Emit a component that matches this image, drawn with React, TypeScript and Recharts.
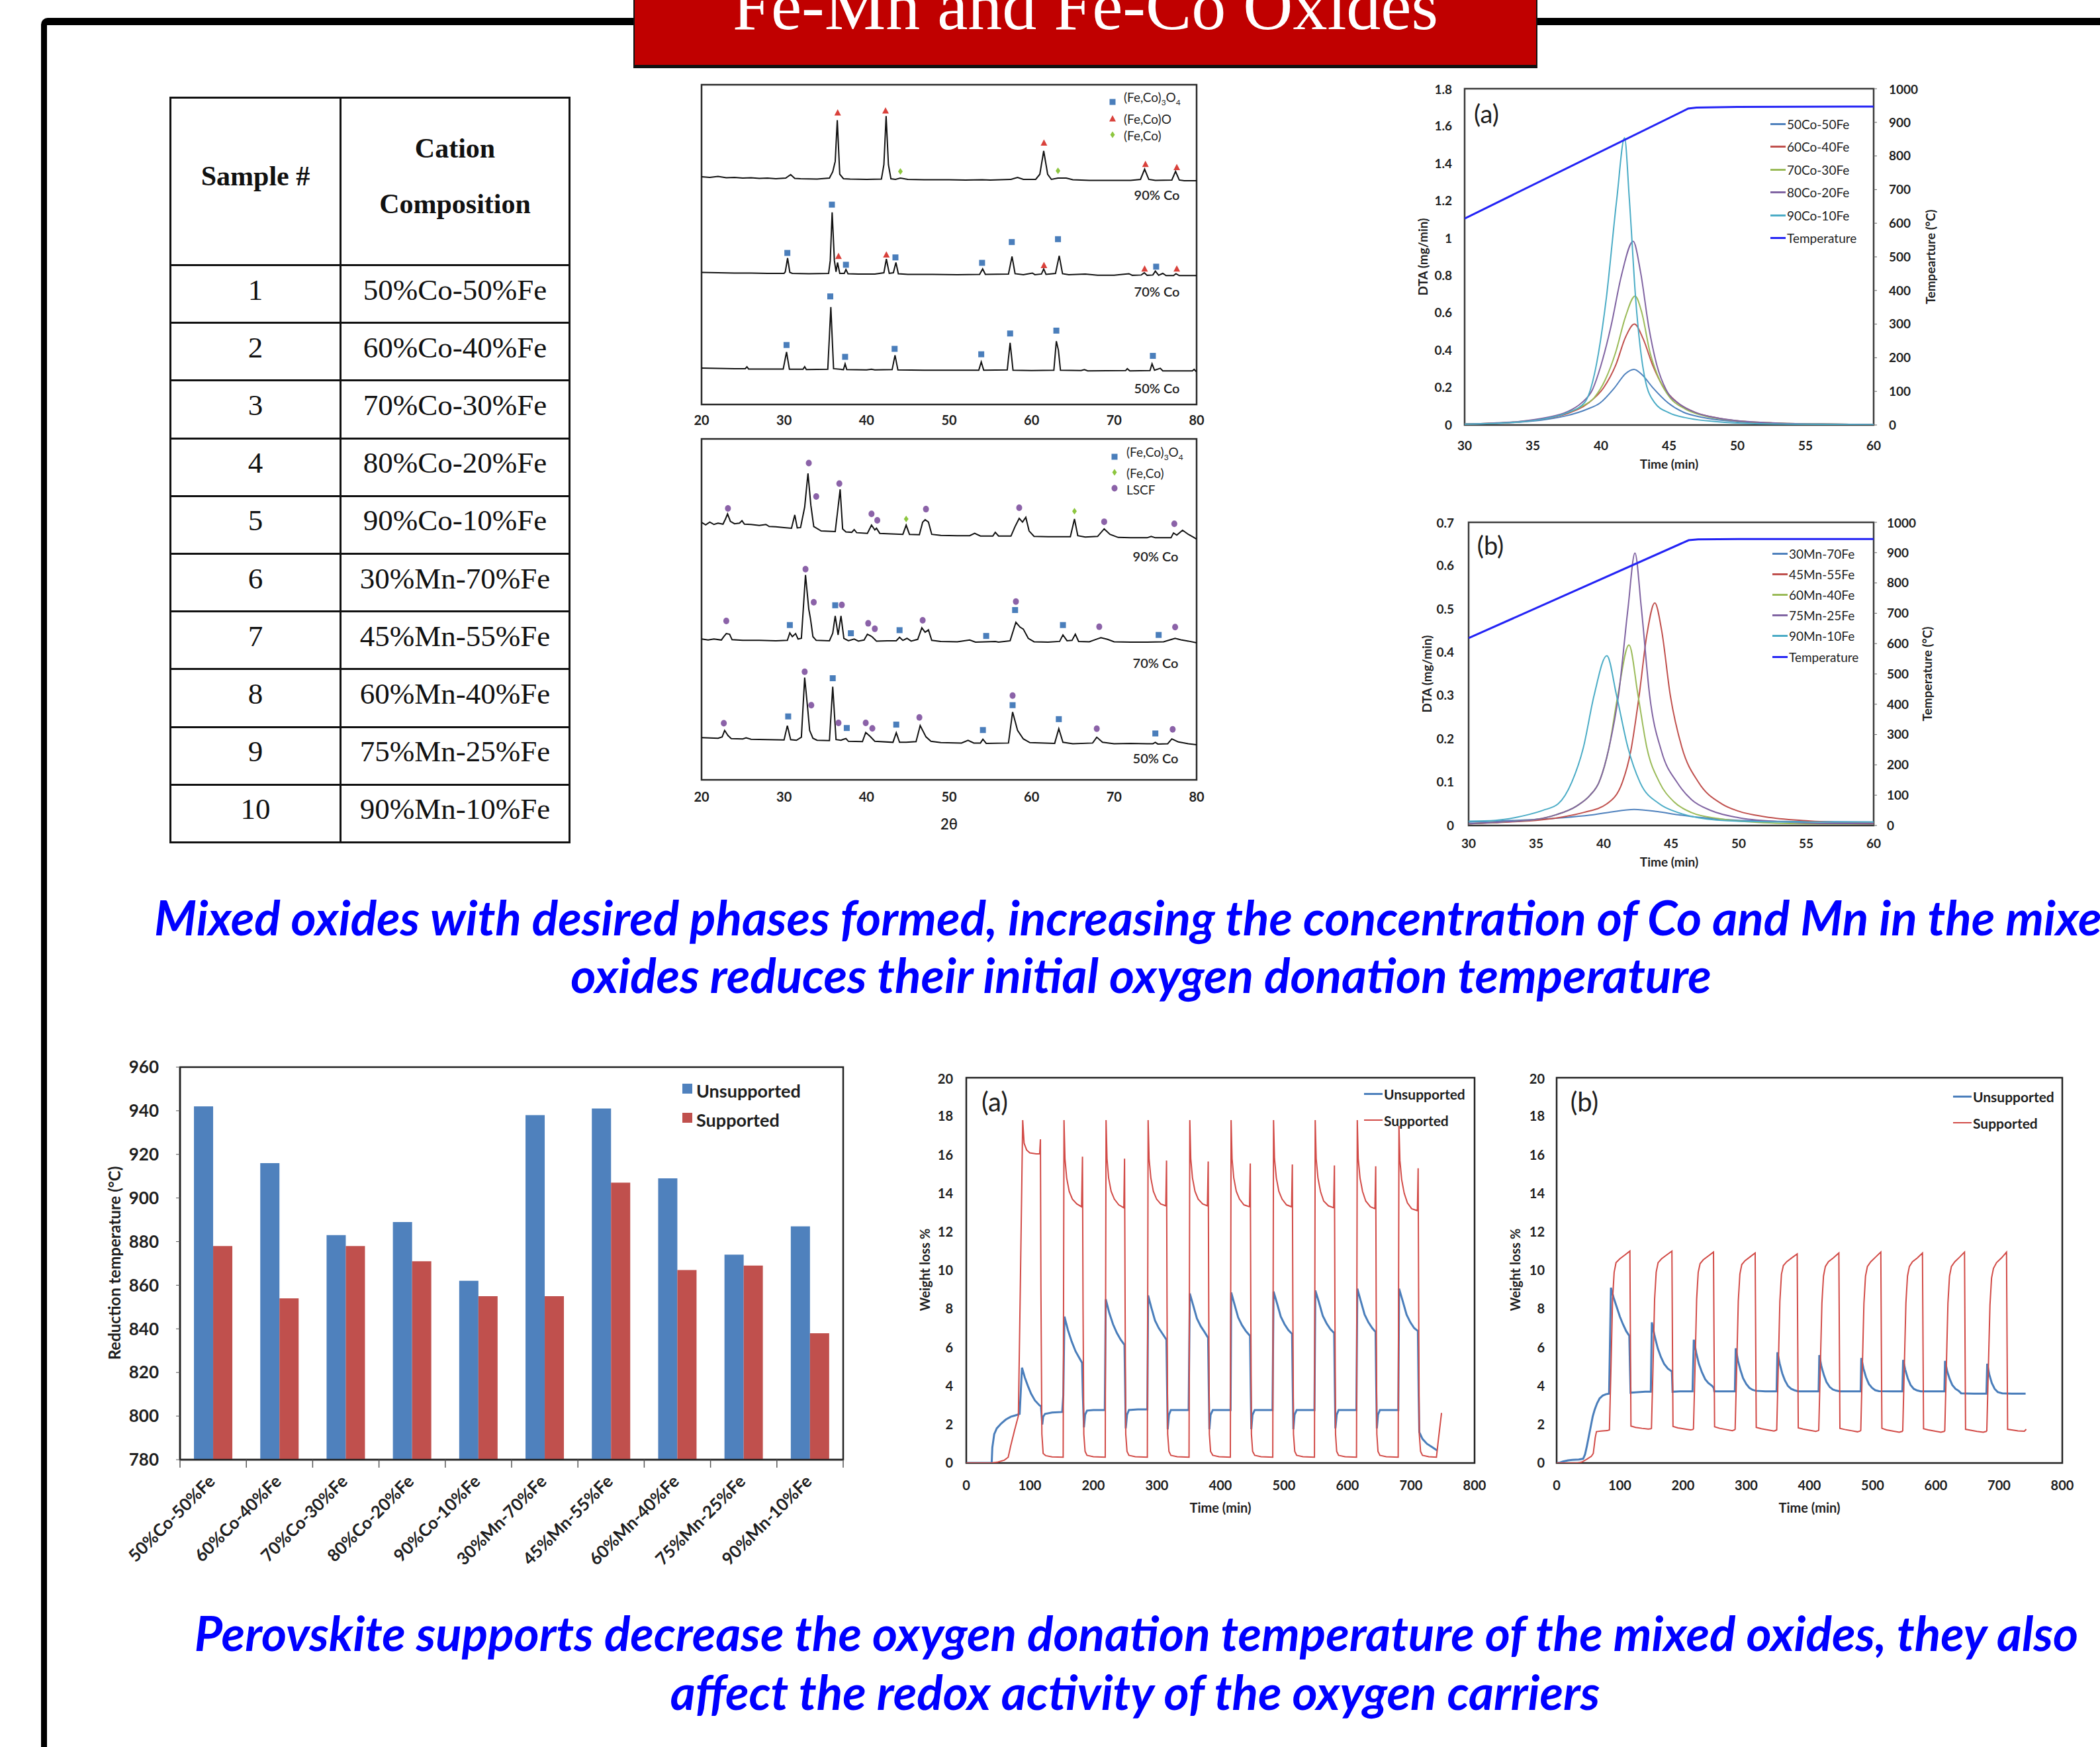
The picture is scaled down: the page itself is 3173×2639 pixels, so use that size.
import React from "react";
import {
  ComposedChart,
  BarChart,
  Bar,
  Line,
  Scatter,
  XAxis,
  YAxis,
  ReferenceArea,
} from "recharts";

// ---------- sample table / bar chart categories ----------
const sampleNumbers = [1, 2, 3, 4, 5, 6, 7, 8, 9, 10];
const compositions = [
  "50%Co-50%Fe",
  "60%Co-40%Fe",
  "70%Co-30%Fe",
  "80%Co-20%Fe",
  "90%Co-10%Fe",
  "30%Mn-70%Fe",
  "45%Mn-55%Fe",
  "60%Mn-40%Fe",
  "75%Mn-25%Fe",
  "90%Mn-10%Fe",
];

// reduction temperature (°C)
const unsupportedTemp = [942, 916, 883, 889, 862, 938, 941, 909, 874, 887];
const supportedTemp = [878, 854, 878, 871, 855, 855, 907, 867, 869, 838];
const reductionTicks = [780, 800, 820, 840, 860, 880, 900, 920, 940, 960];

// ---------- XRD (2θ, stacked intensity in arbitrary units) ----------
const xrdTicks = [20, 30, 40, 50, 60, 70, 80];

// unsupported samples
const xrdTop90 = [
  [20, 71.2], [21, 71.0], [22, 71.3], [23, 70.9], [24, 71.0], [25, 70.8], [26, 70.9], [27, 70.7], [28, 70.8], [29, 70.6],
  [30.2, 70.8], [30.8, 71.9], [31.3, 70.7], [32, 70.6], [34, 70.5], [35.5, 70.8], [35.9, 72.8], [36.2, 76], [36.45, 88.9],
  [36.75, 72], [37.2, 70.6], [38, 70.5], [40, 70.4], [41.8, 70.5], [42.1, 75], [42.37, 90.2], [42.65, 75], [42.95, 70.6],
  [43.5, 70.4], [44.1, 70.8], [45, 70.4], [47, 70.3], [50, 70.3], [52, 70.2], [54, 70.3], [55, 70.2], [57.5, 70.4],
  [58.3, 71.0], [59, 70.4], [60.5, 70.4], [61.0, 72], [61.47, 79.3], [61.95, 72], [62.4, 70.4], [63.2, 70.8], [64.2, 70.8],
  [65, 70.3], [67, 70.1], [70, 70.1], [72, 70.1], [73.2, 70.4], [73.7, 73.6], [74.2, 70.4], [75, 70.1], [77, 70.2],
  [77.45, 72.9], [77.9, 70.2], [78.5, 70.0], [80, 70.0],
];
const xrdTop70 = [
  [20, 41.3], [22, 41.2], [24, 41.1], [26, 41.1], [28, 41.0], [30, 41.0], [30.15, 41.5], [30.43, 45.8], [30.7, 41.3],
  [31, 41.0], [33, 40.9], [35.4, 41.0], [35.6, 45], [35.83, 60.1], [36.1, 45], [36.3, 41.5], [36.48, 44.4], [36.75, 41.0],
  [37.3, 41.0], [37.5, 42.2], [37.75, 40.9], [39, 40.8], [41, 40.8], [42.1, 41.2], [42.4, 45.5], [42.75, 41.0],
  [43.25, 41.2], [43.56, 44.4], [43.85, 40.9], [45, 40.7], [48, 40.7], [51, 40.6], [53.7, 40.7], [54.07, 42.4],
  [54.4, 40.7], [57.2, 40.8], [57.63, 46.3], [58.0, 40.9], [59, 40.6], [60.1, 41.1], [60.4, 40.6], [61.2, 40.8],
  [61.47, 42.4], [61.75, 40.7], [62.9, 41.0], [63.35, 46.5], [63.75, 40.9], [64.5, 40.6], [66.5, 40.8], [68, 40.4],
  [70, 40.4], [71.8, 40.9], [72.2, 40.4], [73.3, 40.5], [73.66, 41.2], [74.0, 40.4], [74.7, 40.5], [75.0, 41.7],
  [75.4, 40.4], [75.9, 41.0], [76.3, 40.3], [77.2, 40.3], [77.5, 40.9], [77.9, 40.3], [80, 40.3],
];
const xrdTop50 = [
  [20, 11.4], [22, 11.3], [24, 11.2], [25.3, 11.2], [25.5, 11.8], [25.7, 11.1], [28, 11.1], [29.9, 11.1], [30.3, 16.4],
  [30.65, 11.0], [32.3, 11.0], [32.5, 11.8], [32.7, 10.9], [35.3, 11.0], [35.67, 30.5], [36.0, 11.2], [37.2, 10.9],
  [37.4, 12.7], [37.6, 10.9], [40, 10.8], [40.6, 11.0], [41, 10.8], [43.1, 10.9], [43.45, 15.4], [43.8, 10.8], [47, 10.7],
  [50, 10.7], [53.6, 10.7], [53.9, 13.3], [54.2, 10.7], [57.05, 10.8], [57.4, 19.3], [57.75, 10.7], [60, 10.6],
  [62.7, 10.7], [63.0, 19.8], [63.25, 17], [63.5, 10.7], [66, 10.6], [66.4, 10.9], [66.8, 10.5], [71.4, 10.6],
  [71.6, 11.2], [71.9, 10.5], [74.35, 10.6], [74.6, 12.7], [74.9, 10.7], [75.6, 11.3], [75.9, 10.5], [79.5, 10.5],
  [79.7, 11.0], [79.9, 10.4], [80, 10.4],
];
const xrdTopSpinel = [
  [30.4, 47.4], [35.8, 62.5], [37.5, 43.7], [43.5, 46.0], [54.0, 44.3], [57.6, 50.8], [63.2, 51.7], [75.1, 43.1],
  [30.3, 18.6], [35.6, 33.8], [37.4, 14.9], [43.4, 17.4], [53.9, 15.7], [57.4, 22.2], [63.0, 23.1], [74.7, 15.2],
];
const xrdTopRocksalt = [
  [36.5, 91.2], [42.3, 91.8], [61.5, 81.8], [73.8, 75.1], [77.6, 74.1],
  [36.6, 46.3], [42.4, 46.8], [61.5, 43.5], [73.7, 42.4], [77.6, 42.4],
];
const xrdTopAlloy = [[44.1, 72.9], [63.2, 73.1]];

// LSCF supported samples
const xrdBot90 = [
  [20, 75.5], [20.5, 74.8], [21, 75.6], [21.5, 74.9], [22, 75.3], [22.6, 75.0], [22.9, 76.5], [23.15, 78.0], [23.5, 75.8],
  [24, 75.1], [24.6, 75.3], [24.9, 76.0], [25.2, 75.0], [26, 74.9], [27, 74.6], [27.8, 74.9], [28.2, 74.3], [29, 74.2],
  [30, 74.0], [30.9, 73.8], [31.3, 77.7], [31.6, 73.9], [32.0, 74.0], [32.5, 80], [32.9, 89.9], [33.25, 80.5],
  [33.6, 74.3], [34.5, 73.0], [36.2, 72.8], [36.55, 80], [36.8, 85.2], [37.1, 73.6], [37.5, 72.7], [38.2, 72.6],
  [38.5, 73.4], [38.8, 72.5], [40.1, 72.3], [40.6, 74.7], [41.0, 73.3], [41.2, 73.8], [41.6, 72.3], [42.5, 72.2],
  [44.4, 72.0], [44.8, 74.7], [45.2, 72.0], [46.4, 71.9], [46.8, 75.6], [47.1, 76.3], [47.5, 75.6], [47.9, 72.0],
  [49, 71.7], [51, 71.6], [52.5, 71.6], [53.1, 72.3], [53.8, 71.5], [55.3, 71.5], [55.6, 72.6], [56, 71.5], [57.5, 71.5],
  [58.0, 74.3], [58.5, 76.7], [58.9, 75.6], [59.3, 77.0], [59.7, 73], [60.3, 71.4], [62, 71.3], [64.7, 71.3],
  [65.2, 76.5], [65.6, 71.6], [66.5, 71.2], [68.0, 71.4], [68.8, 73.6], [69.5, 72.0], [70.5, 71.1], [72, 71.0],
  [74, 71.0], [74.5, 71.4], [75, 71.0], [76.9, 71.0], [77.2, 72.4], [77.6, 71.8], [78.3, 73.2], [79, 72.0],
  [79.6, 71.2], [80, 70.6],
];
const xrdBot70 = [
  [20, 41.3], [20.8, 41.0], [21.5, 41.3], [22.4, 41.0], [22.7, 42.0], [23.0, 42.9], [23.4, 42.7], [23.7, 41.1],
  [25, 40.9], [27, 40.9], [29, 40.8], [30.4, 40.9], [30.7, 43.1], [31.0, 42.0], [31.4, 42.9], [31.7, 41.3],
  [32.1, 41.5], [32.6, 60.1], [33.0, 50], [33.2, 47.3], [33.5, 42], [33.9, 40.9], [35.5, 40.8], [35.9, 43],
  [36.2, 48.1], [36.55, 42.5], [36.9, 48.1], [37.25, 41.5], [37.8, 40.8], [38.5, 41.3], [39.0, 40.7], [39.7, 41.0],
  [40.1, 42.7], [40.5, 42.2], [40.7, 41.9], [41.2, 40.7], [42.5, 40.8], [43.6, 40.8], [44.0, 41.8], [44.4, 40.9],
  [44.9, 41.5], [45.4, 40.7], [46.2, 41.2], [46.7, 44.6], [47.1, 43.3], [47.5, 44.0], [47.9, 40.9], [49, 40.6],
  [51, 40.5], [52.5, 41.0], [53.2, 40.4], [54.5, 40.5], [55.6, 40.6], [56, 40.4], [57.4, 40.8], [58.1, 46.2],
  [58.6, 44.8], [59.0, 44.2], [59.6, 41.5], [60.3, 40.5], [62, 40.4], [63.4, 40.6], [63.8, 42.5], [64.3, 40.8],
  [64.9, 40.9], [65.3, 42.7], [65.7, 40.6], [67, 40.5], [67.8, 41.2], [68.4, 41.7], [69.2, 41.2], [70, 40.5],
  [72, 40.4], [74, 40.4], [76, 40.5], [77.0, 41.2], [77.4, 41.5], [78.2, 41.0], [79, 40.7], [80, 40.2],
];
const xrdBot50 = [
  [20, 12.4], [21, 12.3], [22, 12.2], [22.5, 12.6], [22.8, 14.5], [23.2, 13.0], [23.6, 12.1], [25, 12.0], [25.4, 12.3],
  [26, 11.9], [28, 11.8], [30, 11.7], [30.4, 15.9], [30.8, 11.8], [31.5, 11.6], [32.1, 12.5], [32.5, 30.0], [32.9, 20],
  [33.1, 14.5], [33.5, 12.2], [34, 11.6], [35.5, 11.5], [35.9, 27.3], [36.3, 11.8], [36.9, 11.6], [37.2, 11.9],
  [37.5, 12.1], [37.8, 11.3], [39.5, 11.2], [39.9, 13.9], [40.4, 12.8], [41.0, 11.3], [43.2, 11.0], [43.6, 13.8],
  [44.0, 11.0], [44.8, 11.0], [46.0, 11.2], [46.5, 15.9], [47.2, 12.6], [47.8, 11.3], [49, 10.9], [51.5, 10.8],
  [52.3, 11.6], [53, 10.8], [53.8, 10.8], [54.1, 11.9], [54.5, 10.7], [57.2, 10.8], [57.7, 19.9], [58.3, 14.5],
  [59.0, 12.0], [59.8, 10.9], [62.8, 10.7], [63.3, 15.0], [63.8, 11.0], [65, 10.6], [67.4, 10.8], [67.9, 12.5],
  [68.6, 11.0], [70, 10.6], [72, 10.7], [74, 10.6], [74.7, 10.6], [75.0, 11.0], [75.3, 10.5], [76.5, 10.6],
  [77.0, 12.0], [77.8, 11.1], [79, 10.6], [80, 10.3],
];
const xrdBotSpinel = [
  [30.7, 45.4], [36.2, 51.2], [38.1, 43.0], [44.0, 43.9], [54.5, 42.2], [58.0, 49.8], [63.8, 45.4], [75.4, 42.5],
  [30.5, 18.6], [35.9, 29.8], [37.6, 15.2], [43.6, 16.2], [54.1, 14.6], [57.7, 21.9], [63.3, 17.8], [75.0, 13.6],
];
const xrdBotAlloy = [[44.8, 76.5], [65.2, 78.8]];
const xrdBotLscf = [
  [23.2, 79.6], [33.0, 92.9], [33.9, 83.1], [36.7, 86.9], [40.6, 78.0], [41.3, 76.1], [47.2, 79.4], [58.5, 79.8],
  [68.8, 75.7], [77.3, 75.1],
  [23.0, 46.6], [32.6, 61.8], [33.6, 52.1], [37.0, 51.3], [40.2, 45.9], [41.0, 44.3], [46.8, 46.8], [58.1, 52.3],
  [68.2, 44.9], [77.4, 44.8],
  [22.7, 16.6], [32.5, 31.7], [33.3, 21.9], [36.6, 16.7], [39.9, 16.7], [40.7, 15.1], [46.4, 18.3], [57.7, 24.7],
  [67.9, 15.0], [77.1, 14.8],
];

// ---------- DTA (time min, mg/min) ----------
const dtaTimeTicks = [30, 35, 40, 45, 50, 55, 60];
const tempTicks = [0, 100, 200, 300, 400, 500, 600, 700, 800, 900, 1000];
const dtaTicksA = [0, 0.2, 0.4, 0.6, 0.8, 1, 1.2, 1.4, 1.6, 1.8];
const dtaTicksB = [0, 0.1, 0.2, 0.3, 0.4, 0.5, 0.6, 0.7];

const dta50Co = [
  [30, 0.004], [32, 0.008], [34, 0.015], [36, 0.03], [37.5, 0.05], [39, 0.085], [39.93, 0.118], [41, 0.2], [41.8, 0.275],
  [42.42, 0.298], [43, 0.27], [43.8, 0.2], [44.93, 0.118], [46, 0.07], [47.5, 0.04], [50, 0.018], [53, 0.008],
  [56, 0.004], [60, 0.003],
];
const dta60Co = [
  [30, 0.005], [32, 0.009], [34, 0.017], [36, 0.035], [37.5, 0.06], [39.08, 0.118], [40.2, 0.2], [41.08, 0.32],
  [41.8, 0.47], [42.45, 0.54], [43.1, 0.46], [43.79, 0.32], [44.6, 0.2], [45.64, 0.118], [47, 0.065], [48.5, 0.038],
  [50, 0.022], [53, 0.01], [56, 0.005], [60, 0.003],
];
const dta70Co = [
  [30, 0.005], [32, 0.009], [34, 0.018], [36, 0.037], [37.5, 0.065], [38.6, 0.1], [39.5, 0.146], [40.3, 0.24],
  [41.08, 0.39], [41.8, 0.58], [42.5, 0.69], [43.0, 0.6], [43.59, 0.39], [44.3, 0.24], [45.07, 0.146], [46.2, 0.085],
  [47.5, 0.05], [50, 0.022], [53, 0.01], [56, 0.005], [60, 0.003],
];
const dta80Co = [
  [30, 0.005], [32, 0.01], [34, 0.019], [36, 0.04], [37.5, 0.07], [38.6, 0.12], [39.36, 0.187], [40.0, 0.32],
  [40.73, 0.527], [41.5, 0.8], [42.36, 0.983], [42.9, 0.82], [43.5, 0.527], [44.1, 0.32], [44.79, 0.187], [45.8, 0.11],
  [47, 0.065], [48.5, 0.038], [50, 0.023], [53, 0.01], [56, 0.005], [60, 0.003],
];
const dta90Co = [
  [30, 0.004], [32, 0.008], [34, 0.016], [36, 0.035], [37.5, 0.065], [38.8, 0.12], [39.6, 0.3], [40.36, 0.66],
  [41.16, 1.21], [41.73, 1.537], [42.08, 1.21], [42.56, 0.66], [43.22, 0.25], [43.93, 0.12], [45, 0.065],
  [46.5, 0.035], [48.5, 0.018], [51, 0.008], [55, 0.004], [60, 0.002],
];
const tempCo = [[30, 614], [46.4, 941], [47, 944], [50, 946], [60, 947]];

const dta30Mn = [
  [30, 0.008], [32, 0.01], [35, 0.014], [37, 0.018], [39, 0.024], [40.5, 0.031], [42.26, 0.037], [44, 0.032],
  [45.5, 0.025], [47, 0.019], [50, 0.012], [55, 0.009], [60, 0.008],
];
const dta45Mn = [
  [30, 0.004], [33, 0.008], [35, 0.012], [37, 0.02], [38.5, 0.03], [40.24, 0.05], [41.39, 0.1], [42.0, 0.17],
  [42.63, 0.3], [43.2, 0.44], [43.79, 0.514], [44.3, 0.45], [44.94, 0.3], [45.8, 0.18], [47.02, 0.1], [48.75, 0.05],
  [50, 0.033], [52, 0.02], [55, 0.011], [60, 0.005],
];
const dta60Mn = [
  [30, 0.004], [33, 0.009], [35, 0.014], [36.5, 0.025], [38, 0.045], [39.0, 0.07], [39.66, 0.1], [40.4, 0.18],
  [41.05, 0.3], [41.88, 0.417], [42.55, 0.3], [43.2, 0.18], [44.13, 0.1], [45.2, 0.055], [46.5, 0.03], [48.5, 0.016],
  [51, 0.008], [55, 0.004], [60, 0.003],
];
const dta75Mn = [
  [30, 0.004], [33, 0.009], [35, 0.014], [36.5, 0.025], [38, 0.045], [39.0, 0.07], [39.66, 0.1], [40.4, 0.18],
  [41.1, 0.3], [41.8, 0.5], [42.32, 0.629], [42.8, 0.5], [43.41, 0.3], [44.3, 0.17], [45.43, 0.1], [46.5, 0.06],
  [48, 0.034], [50, 0.018], [53, 0.009], [56, 0.005], [60, 0.004],
];
const dta90Mn = [
  [30, 0.01], [32, 0.012], [34, 0.022], [35.5, 0.035], [36.63, 0.05], [37.64, 0.1], [38.5, 0.18], [39.29, 0.3],
  [40.24, 0.392], [40.96, 0.3], [41.8, 0.18], [42.69, 0.1], [44.13, 0.05], [45.5, 0.03], [47, 0.018], [50, 0.01],
  [55, 0.008], [60, 0.008],
];
const tempMn = [[30, 618], [46.3, 941], [47, 944], [50, 945], [60, 945]];

// ---------- redox cycles (time min, weight loss %) ----------
const cycleTimeTicks = [0, 100, 200, 300, 400, 500, 600, 700, 800];
const weightTicks = [0, 2, 4, 6, 8, 10, 12, 14, 16, 18, 20];

const unsupportedA = [
  [0, 0], [40, 0], [41, 0.8], [44, 1.5], [48, 1.8], [55, 2.05], [62, 2.25], [70, 2.4], [80, 2.5], [84, 2.55],
  [87.7, 4.95], [92, 4.45], [97, 4.0], [102, 3.6], [108, 3.25], [115, 3.0], [117.5, 2.95], [118.5, 2.5], [119.6, 2.0],
  [121, 2.4], [124, 2.55], [135, 2.62], [151, 2.65],
  [152.7, 3.5], [154.5, 7.6], [160, 6.9], [166, 6.3], [172, 5.8], [178, 5.45], [182.3, 5.2], [183.5, 3.5], [185.2, 1.85],
  [187, 2.5], [190, 2.72], [200, 2.75], [218, 2.75],
  [219.5, 8.5], [225, 7.8], [231, 7.2], [237, 6.75], [243, 6.4], [249, 6.13], [250, 4], [251, 1.8], [253, 2.5],
  [256, 2.75], [270, 2.78], [285, 2.78],
  [286.2, 8.7], [291, 8.1], [297, 7.4], [303, 7.0], [309, 6.7], [315, 6.4], [316, 4], [317, 1.75], [319, 2.5],
  [322, 2.75], [335, 2.75], [350, 2.75],
  [351.8, 8.8], [357, 8.2], [363, 7.5], [369, 7.1], [375, 6.8], [380.6, 6.5], [381.6, 4], [382.6, 1.75], [384.5, 2.5],
  [388, 2.75], [400, 2.75], [416, 2.75],
  [417, 8.85], [422, 8.25], [428, 7.55], [434, 7.15], [440, 6.85], [446.6, 6.6], [447.6, 4], [448.6, 1.75],
  [450.5, 2.5], [454, 2.75], [466, 2.75], [482, 2.75],
  [483.6, 8.9], [489, 8.3], [495, 7.6], [501, 7.2], [507, 6.9], [512.8, 6.7], [513.8, 4], [514.8, 1.75], [516.7, 2.5],
  [520, 2.75], [532, 2.75], [548, 2.75],
  [549.4, 8.95], [555, 8.35], [561, 7.65], [567, 7.25], [573, 6.95], [579, 6.75], [580, 4], [581, 1.8], [583, 2.5],
  [586, 2.75], [598, 2.75], [614, 2.75],
  [615.5, 9.05], [621, 8.4], [627, 7.7], [633, 7.3], [639, 7.0], [644.2, 6.8], [645.2, 4], [646.2, 1.8], [648, 2.5],
  [651, 2.75], [664, 2.75], [680, 2.75],
  [681.2, 9.05], [687, 8.4], [693, 7.7], [699, 7.3], [705, 7.0], [710.8, 6.85], [712, 3.5], [713, 1.6], [718, 1.25],
  [725, 1.0], [732, 0.85], [741, 0.65],
];
const supportedA = [
  [0, 0], [40, 0], [50, 0.05], [60, 0.15], [66, 0.3], [70, 0.9], [76, 1.7], [82, 2.45], [85, 9], [88.8, 17.8],
  [91, 16.6], [95, 16.25], [100, 16.1], [110, 16.05], [115.5, 16.05], [116.7, 16.8], [117.5, 9], [119, 1.5], [121, 0.5],
  [125, 0.38], [135, 0.32], [152.5, 0.3],
  [153.8, 17.8], [155.3, 15.8], [158, 14.8], [162, 14.1], [167, 13.7], [174, 13.45], [181.5, 13.3], [182.9, 15.9],
  [183.8, 8], [185, 1.5], [187, 0.6], [190, 0.4], [200, 0.33], [218.7, 0.3],
  [220, 17.8], [221.5, 15.8], [224, 14.8], [228, 14.1], [233, 13.7], [240, 13.4], [248, 13.25], [249.1, 15.8],
  [250, 8], [251, 1.5], [253, 0.6], [256, 0.4], [266, 0.33], [285, 0.3],
  [286.2, 17.8], [287.7, 15.8], [290.5, 14.8], [294.5, 14.1], [299.5, 13.7], [306, 13.45], [314, 13.35], [315.2, 15.7],
  [316, 8], [317, 1.5], [319, 0.6], [322, 0.4], [332, 0.33], [350.6, 0.3],
  [351.8, 17.8], [353.3, 15.8], [356, 14.8], [360, 14.1], [365, 13.7], [372, 13.45], [379.5, 13.35], [380.8, 15.65],
  [381.6, 8], [382.6, 1.5], [384.5, 0.6], [388, 0.4], [398, 0.33], [415.6, 0.3],
  [416.8, 17.8], [418.3, 15.8], [421, 14.8], [425, 14.1], [430, 13.7], [437, 13.4], [445.8, 13.3], [447, 15.55],
  [447.8, 8], [448.8, 1.5], [450.7, 0.6], [454, 0.4], [464, 0.33], [482.4, 0.3],
  [483.6, 17.8], [485.1, 15.8], [488, 14.8], [492, 14.1], [497, 13.7], [504, 13.4], [512, 13.3], [513.2, 15.5],
  [514, 8], [515, 1.5], [517, 0.6], [520, 0.4], [530, 0.33], [548, 0.3],
  [549.2, 17.8], [550.7, 15.8], [553.5, 14.8], [557.5, 14.1], [562.5, 13.6], [570, 13.35], [578.2, 13.25],
  [579.4, 15.45], [580.2, 8], [581.2, 1.5], [583, 0.6], [586, 0.4], [596, 0.33], [614.2, 0.3],
  [615.4, 17.8], [616.9, 15.8], [619.7, 14.8], [623.7, 14.1], [628.7, 13.6], [636, 13.3], [643.2, 13.2],
  [644.4, 15.4], [645.2, 8], [646.2, 1.5], [648, 0.6], [651, 0.4], [661, 0.33], [679.8, 0.3],
  [681, 17.5], [682.5, 15.7], [685.3, 14.7], [689.3, 14.0], [694.3, 13.5], [701, 13.2], [710, 13.1], [711.2, 15.3],
  [712, 8], [713, 1.5], [715, 0.6], [718, 0.4], [728, 0.33], [740, 0.3], [743, 1.2], [748, 2.6],
];

const unsupportedB = [
  [0, 0], [5, 0.02], [10, 0.08], [18, 0.14], [25, 0.16], [35, 0.18], [42, 0.22], [45, 0.45], [48, 0.9], [51, 1.4],
  [54, 1.9], [57, 2.4], [60, 2.75], [64, 3.1], [68, 3.35], [73, 3.5], [78, 3.57], [83, 3.6], [85.9, 9.1], [90, 8.6],
  [95, 8.1], [100, 7.6], [105, 7.2], [110, 6.85], [115, 6.6], [116, 5], [117, 3.65], [125, 3.67], [140, 3.7], [149, 3.7],
  [150.6, 7.3], [155, 6.6], [160, 5.95], [165, 5.5], [170, 5.15], [176, 4.9], [182.4, 4.75], [183.4, 3.7], [195, 3.72],
  [215, 3.72],
  [217, 6.4], [221, 5.7], [225, 5.15], [230, 4.7], [235, 4.35], [240, 4.15], [246, 4.0], [248.5, 3.9], [249.5, 3.72],
  [265, 3.72], [282, 3.72],
  [283.3, 5.95], [287, 5.3], [291, 4.8], [295, 4.4], [300, 4.1], [305, 3.9], [310, 3.8], [315, 3.75], [330, 3.72],
  [348, 3.72],
  [349.3, 5.75], [353, 5.15], [357, 4.65], [361, 4.3], [366, 4.0], [371, 3.85], [376, 3.78], [382, 3.72], [398, 3.72],
  [414.5, 3.72],
  [415.6, 5.6], [419, 5.0], [423, 4.55], [427, 4.2], [432, 3.95], [437, 3.82], [442, 3.76], [448, 3.72], [465, 3.72],
  [481, 3.72],
  [482, 5.45], [485.5, 4.9], [489.5, 4.45], [494, 4.1], [499, 3.9], [504, 3.78], [510, 3.73], [530, 3.72], [547, 3.72],
  [548.2, 5.35], [551.5, 4.85], [555.5, 4.4], [560, 4.05], [565, 3.85], [570, 3.77], [576, 3.72], [595, 3.72],
  [613.5, 3.72],
  [614.5, 5.3], [618, 4.75], [622, 4.35], [626, 4.05], [631, 3.85], [636, 3.75], [640, 3.62], [660, 3.6], [680, 3.6],
  [681.2, 5.15], [684.5, 4.6], [688.5, 4.15], [693, 3.85], [698, 3.68], [705, 3.62], [720, 3.6], [742, 3.6],
];
const supportedB = [
  [0, 0], [33, 0], [40, 0.05], [48, 0.2], [55, 0.35], [58, 0.5], [61, 1.3], [63, 1.63], [70, 1.66], [80, 1.68],
  [83.5, 1.72], [86, 5], [88.5, 8.5], [91, 9.9], [94, 10.4], [100, 10.6], [108, 10.8], [115.9, 11.0], [116.8, 6],
  [117.6, 1.92], [125, 1.85], [135, 1.8], [145, 1.76], [149, 1.78],
  [150, 1.8], [152.5, 5], [155, 8.5], [157.5, 9.9], [160.5, 10.4], [166, 10.6], [174, 10.8], [182.4, 11.0], [183.3, 6],
  [184.1, 1.9], [192, 1.82], [202, 1.77], [212, 1.72], [215.5, 1.74],
  [216.5, 1.78], [219, 5], [221.5, 8.5], [224, 9.9], [227, 10.35], [232, 10.55], [240, 10.75], [248.2, 10.95],
  [249.1, 6], [249.9, 1.88], [258, 1.8], [268, 1.74], [278, 1.68], [281.4, 1.72],
  [282.4, 1.75], [284.9, 5], [287.4, 8.4], [289.9, 9.8], [292.9, 10.3], [298, 10.5], [306, 10.7], [314.1, 10.9],
  [315, 6], [315.8, 1.85], [324, 1.78], [334, 1.72], [344, 1.66], [347.2, 1.7],
  [348.2, 1.72], [350.7, 5], [353.2, 8.4], [355.7, 9.8], [358.7, 10.25], [364, 10.45], [372, 10.65], [380.6, 10.85],
  [381.5, 6], [382.3, 1.82], [390, 1.76], [400, 1.7], [410, 1.64], [413.7, 1.68],
  [414.7, 1.7], [417.2, 5], [419.7, 8.3], [422.2, 9.7], [425.2, 10.2], [430, 10.45], [438, 10.65], [446.5, 10.9],
  [447.4, 6], [448.2, 1.8], [456, 1.74], [466, 1.68], [476, 1.62], [480.2, 1.66],
  [481.2, 1.7], [483.7, 5], [486.2, 8.3], [488.7, 9.7], [491.7, 10.2], [497, 10.45], [505, 10.7], [512.9, 10.95],
  [513.8, 6], [514.6, 1.8], [522, 1.72], [532, 1.66], [542, 1.6], [546.6, 1.64],
  [547.6, 1.68], [550.1, 5], [552.6, 8.3], [555.1, 9.7], [558.1, 10.2], [563, 10.45], [571, 10.65], [578.8, 10.9],
  [579.7, 6], [580.5, 1.78], [588, 1.72], [598, 1.66], [608, 1.6], [613.1, 1.64],
  [614.1, 1.68], [616.6, 5], [619.1, 8.3], [621.6, 9.7], [624.6, 10.2], [630, 10.45], [638, 10.7], [645.3, 10.95],
  [646.2, 6], [647, 1.75], [655, 1.7], [665, 1.64], [675, 1.6], [679.6, 1.64],
  [680.6, 1.68], [683.1, 5], [685.6, 8.2], [688.1, 9.6], [691.1, 10.1], [696, 10.4], [704, 10.65], [711.8, 10.95],
  [712.7, 6], [713.5, 1.75], [720, 1.72], [730, 1.67], [740, 1.65], [743, 1.75],
];

// ---------- helpers ----------
const toPts = (a: number[][]) => a.map(([x, y]) => ({ x, y }));

const BLUE = "#4F81BD";
const RED = "#C0504D";
const GREEN = "#9BBB59";
const PURPLE = "#8064A2";
const TEAL = "#4BACC6";
const TEMP = "#2323F5";
const INK = "#1e1e1e";

const tickStyle = (size: number) => ({ fontSize: size, fontWeight: 700, fill: INK });

const squareShape = (p: any) => <rect x={p.cx - 4.5} y={p.cy - 4.5} width={9} height={9} fill="#4A7EBB" />;
const triangleShape = (p: any) => (
  <polygon points={`${p.cx},${p.cy - 5.5} ${p.cx + 5},${p.cy + 4} ${p.cx - 5},${p.cy + 4}`} fill="#D9413B" />
);
const diamondShape = (p: any) => (
  <polygon points={`${p.cx},${p.cy - 5} ${p.cx + 3.5},${p.cy} ${p.cx},${p.cy + 5} ${p.cx - 3.5},${p.cy}`} fill="#8DC63F" />
);
const circleShape = (p: any) => <ellipse cx={p.cx} cy={p.cy} rx={4.5} ry={5} fill="#8B62A8" />;

const abs = (left: number, top: number, extra: React.CSSProperties = {}): React.CSSProperties => ({
  position: "absolute",
  left,
  top,
  ...extra,
});

// rotated axis title, centred on (cx, cy)
function VTitle({ cx, cy, size, children }: any) {
  return (
    <div
      style={abs(cx - 300, cy - 20, {
        width: 600,
        height: 40,
        lineHeight: "40px",
        textAlign: "center",
        fontSize: size,
        fontWeight: 700,
        color: INK,
        transform: "rotate(-90deg)",
        whiteSpace: "nowrap",
      })}
    >
      {children}
    </div>
  );
}

function HText({ cx, cy, size, weight = 700, children, color = INK }: any) {
  return (
    <div
      style={abs(cx - 400, cy - size * 0.6, {
        width: 800,
        height: size * 1.2,
        lineHeight: `${size * 1.2}px`,
        textAlign: "center",
        fontSize: size,
        fontWeight: weight,
        color,
        whiteSpace: "nowrap",
      })}
    >
      {children}
    </div>
  );
}

function LineKey({ x, y, w, color, thick, label, size }: any) {
  return (
    <div style={abs(x, y - 14, { height: 28, display: "flex", alignItems: "center", whiteSpace: "nowrap" })}>
      <div style={{ width: w, height: thick, background: color, marginRight: 2 }} />
      <span style={{ fontSize: size, color: INK, fontWeight: size > 20 ? 700 : 400 }}>{label}</span>
    </div>
  );
}

// ---------- XRD panel ----------
function XrdPanel({ left, top, plotH, tickMargin, traces, markers }: any) {
  return (
    <div style={abs(left - 20, top - 10)}>
      <ComposedChart width={788} height={plotH + 70} margin={{ top: 10, right: 20, bottom: 0, left: 20 }}>
        <XAxis
          type="number"
          dataKey="x"
          domain={[20, 80]}
          ticks={xrdTicks}
          allowDataOverflow
          axisLine={false}
          tickLine={false}
          height={60}
          tickMargin={tickMargin}
          tick={tickStyle(20)}
        />
        <YAxis type="number" dataKey="y" domain={[0, 100]} hide allowDataOverflow />
        <ReferenceArea x1={20} x2={80} y1={0} y2={100} fill="none" stroke="#2a2a2a" strokeWidth={2.5} />
        {traces.map((t: number[][], i: number) => (
          <Line
            key={i}
            data={toPts(t)}
            dataKey="y"
            type="linear"
            dot={false}
            stroke="#111"
            strokeWidth={2}
            isAnimationActive={false}
          />
        ))}
        {markers.map((m: any, i: number) => (
          <Scatter key={"m" + i} data={toPts(m.data)} shape={m.shape} isAnimationActive={false} />
        ))}
      </ComposedChart>
    </div>
  );
}

// ---------- DTA panel ----------
function DtaPanel({ left, top, plotW, plotH, yMax, yTicks, series, temp, tm }: any) {
  return (
    <div style={abs(left - 70, top - 10)}>
      <ComposedChart width={plotW + 150} height={plotH + 70} margin={{ top: 10, right: 10, bottom: 0, left: 10 }}>
        <XAxis
          type="number"
          dataKey="x"
          domain={[30, 60]}
          ticks={dtaTimeTicks}
          allowDataOverflow
          axisLine={false}
          tickLine={false}
          height={60}
          tickMargin={tm.bottom}
          tick={tickStyle(19)}
        />
        <YAxis
          yAxisId="l"
          type="number"
          domain={[0, yMax]}
          ticks={yTicks}
          allowDataOverflow
          width={60}
          axisLine={false}
          tickLine={false}
          tickMargin={tm.left}
          tick={tickStyle(19)}
        />
        <YAxis
          yAxisId="r"
          orientation="right"
          type="number"
          domain={[0, 1000]}
          ticks={tempTicks}
          allowDataOverflow
          width={70}
          axisLine={false}
          tickLine={{ stroke: "#666" }}
          tickSize={5}
          tickMargin={tm.right}
          tick={tickStyle(19)}
        />
        <ReferenceArea yAxisId="l" y1={0} y2={yMax} fill="none" stroke="#3a3a3a" strokeWidth={2.5} />
        {series.map((s: any) => (
          <Line
            key={s.name}
            yAxisId="l"
            data={toPts(s.data)}
            dataKey="y"
            type="monotone"
            dot={false}
            stroke={s.color}
            strokeWidth={2}
            isAnimationActive={false}
          />
        ))}
        <Line
          yAxisId="r"
          data={toPts(temp)}
          dataKey="y"
          type="linear"
          dot={false}
          stroke={TEMP}
          strokeWidth={3}
          isAnimationActive={false}
        />
      </ComposedChart>
    </div>
  );
}

// ---------- redox cycle panel ----------
function CyclePanel({ left, top, plotW, plotH, unsupported, supported, tm }: any) {
  return (
    <div style={abs(left - 70, top - 10)}>
      <ComposedChart width={plotW + 100} height={plotH + 70} margin={{ top: 10, right: 30, bottom: 0, left: 10 }}>
        <XAxis
          type="number"
          dataKey="x"
          domain={[0, 800]}
          ticks={cycleTimeTicks}
          allowDataOverflow
          axisLine={false}
          tickLine={false}
          height={60}
          tickMargin={tm.bottom}
          tick={tickStyle(20)}
        />
        <YAxis
          type="number"
          domain={[0, 20]}
          ticks={weightTicks}
          allowDataOverflow
          width={60}
          axisLine={false}
          tickLine={false}
          tickMargin={tm.left}
          tick={tickStyle(20)}
        />
        <ReferenceArea y1={0} y2={20} fill="none" stroke="#222" strokeWidth={2.5} />
        <Line
          data={toPts(unsupported)}
          dataKey="y"
          type="linear"
          dot={false}
          stroke="#4A7EBB"
          strokeWidth={3}
          isAnimationActive={false}
        />
        <Line
          data={toPts(supported)}
          dataKey="y"
          type="linear"
          dot={false}
          stroke="#D24B47"
          strokeWidth={2}
          isAnimationActive={false}
        />
      </ComposedChart>
    </div>
  );
}

// category tick: tick mark on the band edges and a -45° label
const BarTick = (props: any) => {
  const { x, y, payload } = props;
  const half = payload.offset || 0;
  const ax = x - 2;
  const ay = y + 20;
  return (
    <g>
      <line x1={x - half} x2={x - half} y1={y - 8} y2={y + 4} stroke="#555" strokeWidth={1.5} />
      {payload.index === compositions.length - 1 && (
        <line x1={x + half} x2={x + half} y1={y - 8} y2={y + 4} stroke="#555" strokeWidth={1.5} />
      )}
      <text
        x={ax}
        y={ay}
        transform={`rotate(-45 ${ax} ${ay})`}
        textAnchor="end"
        dy="0.35em"
        fontSize={26}
        fontWeight={700}
        fill={INK}
      >
        {payload.value}
      </text>
    </g>
  );
};

export default function App() {
  const barData = compositions.map((name, i) => ({
    name,
    unsupported: unsupportedTemp[i],
    supported: supportedTemp[i],
  }));

  const cellBorder = "3px solid #111";
  const serif = "'Liberation Serif', 'Times New Roman', serif";
  const blueText: React.CSSProperties = {
    position: "absolute",
    width: 4000,
    textAlign: "center",
    color: "#0000FF",
    fontWeight: 700,
    fontStyle: "italic",
    fontSize: 73,
    lineHeight: "80px",
    whiteSpace: "nowrap",
  };

  return (
    <div
      style={{
        position: "absolute",
        left: 0,
        top: 0,
        width: 3173,
        height: 2639,
        overflow: "hidden",
        background: "#fff",
        fontFamily: "Lato, 'Open Sans', sans-serif",
      }}
    >
      {/* poster frame */}
      <div
        style={abs(62, 27, {
          width: 3300,
          height: 2800,
          borderTop: "11px solid #000",
          borderLeft: "9px solid #000",
          borderTopLeftRadius: 10,
          boxSizing: "border-box",
        })}
      />
      {/* title box */}
      <div
        style={abs(957, -10, {
          width: 1366,
          height: 113,
          background: "#C00000",
          borderLeft: "2px solid #111",
          borderRight: "2px solid #111",
          borderBottom: "5px solid #111",
          boxSizing: "border-box",
        })}
      >
        <div
          style={{
            position: "absolute",
            left: 0,
            right: 0,
            top: -33,
            textAlign: "center",
            fontFamily: serif,
            fontSize: 104,
            lineHeight: "104px",
            color: "#fff",
            whiteSpace: "nowrap",
          }}
        >
          Fe-Mn and Fe-Co Oxides
        </div>
      </div>

      {/* sample table */}
      <table
        style={abs(256, 146, {
          width: 606,
          height: 1125,
          borderCollapse: "collapse",
          fontFamily: serif,
          color: "#111",
          tableLayout: "fixed",
        })}
      >
        <tbody>
          <tr style={{ height: 253 }}>
            <th style={{ border: cellBorder, width: 252, fontSize: 42, fontWeight: 700, paddingBottom: 18 }}>
              Sample #
            </th>
            <th style={{ border: cellBorder, fontSize: 42, fontWeight: 700, lineHeight: "84px", paddingBottom: 18 }}>
              Cation
              <br />
              Composition
            </th>
          </tr>
          {sampleNumbers.map((n, i) => (
            <tr key={n} style={{ height: 87.2 }}>
              <td style={{ border: cellBorder, textAlign: "center", fontSize: 45, paddingBottom: 14 }}>{n}</td>
              <td style={{ border: cellBorder, textAlign: "center", fontSize: 45, paddingBottom: 14 }}>
                {compositions[i]}
              </td>
            </tr>
          ))}
        </tbody>
      </table>

      {/* XRD, unsupported */}
      <XrdPanel
        left={1060}
        top={128}
        plotH={483}
        tickMargin={11}
        traces={[xrdTop90, xrdTop70, xrdTop50]}
        markers={[
          { data: xrdTopSpinel, shape: squareShape },
          { data: xrdTopRocksalt, shape: triangleShape },
          { data: xrdTopAlloy, shape: diamondShape },
        ]}
      />
      <div style={abs(1676, 143, { width: 10, height: 10 })}>
        <svg width={10} height={10}><rect x={0.5} y={0.5} width={9} height={9} fill="#4A7EBB" /></svg>
      </div>
      <div style={abs(1676, 168, { width: 10, height: 10 })}>
        <svg width={10} height={10}><polygon points="5,0 10,9.5 0,9.5" fill="#D9413B" /></svg>
      </div>
      <div style={abs(1677, 193, { width: 8, height: 11 })}>
        <svg width={8} height={11}><polygon points="4,0.5 7.5,5.5 4,10.5 0.5,5.5" fill="#8DC63F" /></svg>
      </div>
      <div style={abs(1698, 134, { fontSize: 19, lineHeight: "25px", color: INK })}>
        <div>(Fe,Co)<sub style={{ fontSize: 12 }}>3</sub>O<sub style={{ fontSize: 12 }}>4</sub></div>
        <div>(Fe,Co)O</div>
        <div>(Fe,Co)</div>
      </div>
      <HText cx={1748} cy={294} size={20} weight={600}>90% Co</HText>
      <HText cx={1748} cy={440} size={20} weight={600}>70% Co</HText>
      <HText cx={1748} cy={586} size={20} weight={600}>50% Co</HText>

      {/* XRD, LSCF supported */}
      <XrdPanel
        left={1060}
        top={663}
        plotH={515}
        tickMargin={13}
        traces={[xrdBot90, xrdBot70, xrdBot50]}
        markers={[
          { data: xrdBotSpinel, shape: squareShape },
          { data: xrdBotAlloy, shape: diamondShape },
          { data: xrdBotLscf, shape: circleShape },
        ]}
      />
      <div style={abs(1679, 679, { width: 10, height: 10 })}>
        <svg width={10} height={10}><rect x={0.5} y={0.5} width={9} height={9} fill="#4A7EBB" /></svg>
      </div>
      <div style={abs(1680, 703, { width: 8, height: 11 })}>
        <svg width={8} height={11}><polygon points="4,0.5 7.5,5.5 4,10.5 0.5,5.5" fill="#8DC63F" /></svg>
      </div>
      <div style={abs(1679, 727, { width: 10, height: 11 })}>
        <svg width={10} height={11}><ellipse cx={5} cy={5.5} rx={4.5} ry={5} fill="#8B62A8" /></svg>
      </div>
      <div style={abs(1702, 671, { fontSize: 19, lineHeight: "24.5px", color: INK })}>
        <div>(Fe,Co)<sub style={{ fontSize: 12 }}>3</sub>O<sub style={{ fontSize: 12 }}>4</sub></div>
        <div>(Fe,Co)</div>
        <div>LSCF</div>
      </div>
      <HText cx={1746} cy={840} size={20} weight={600}>90% Co</HText>
      <HText cx={1746} cy={1001} size={20} weight={600}>70% Co</HText>
      <HText cx={1746} cy={1145} size={20} weight={600}>50% Co</HText>
      <HText cx={1434} cy={1245} size={22} weight={600}>2θ</HText>

      {/* DTA (a) Fe-Co */}
      <DtaPanel
        left={2213}
        top={134}
        plotW={618}
        plotH={508}
        yMax={1.8}
        yTicks={dtaTicksA}
        tm={{ left: 13, right: 18, bottom: 19 }}
        series={[
          { name: "50Co-50Fe", data: dta50Co, color: BLUE },
          { name: "60Co-40Fe", data: dta60Co, color: RED },
          { name: "70Co-30Fe", data: dta70Co, color: GREEN },
          { name: "80Co-20Fe", data: dta80Co, color: PURPLE },
          { name: "90Co-10Fe", data: dta90Co, color: TEAL },
        ]}
        temp={tempCo}
      />
      {[
        ["50Co-50Fe", BLUE],
        ["60Co-40Fe", RED],
        ["70Co-30Fe", GREEN],
        ["80Co-20Fe", PURPLE],
        ["90Co-10Fe", TEAL],
        ["Temperature", TEMP],
      ].map(([label, color], i) => (
        <LineKey key={label} x={2675} y={187 + i * 34.5} w={23} thick={3} color={color} label={label} size={19} />
      ))}
      <HText cx={2246} cy={172} size={38} weight={400}>(a)</HText>
      <VTitle cx={2150} cy={388} size={19}>DTA (mg/min)</VTitle>
      <VTitle cx={2917} cy={388} size={19}>Tempearture (°C)</VTitle>
      <HText cx={2522} cy={701} size={19}>Time (min)</HText>

      {/* DTA (b) Fe-Mn */}
      <DtaPanel
        left={2219}
        top={789}
        plotW={612}
        plotH={458}
        yMax={0.7}
        yTicks={dtaTicksB}
        tm={{ left: 16, right: 15, bottom: 15 }}
        series={[
          { name: "30Mn-70Fe", data: dta30Mn, color: BLUE },
          { name: "45Mn-55Fe", data: dta45Mn, color: RED },
          { name: "60Mn-40Fe", data: dta60Mn, color: GREEN },
          { name: "75Mn-25Fe", data: dta75Mn, color: PURPLE },
          { name: "90Mn-10Fe", data: dta90Mn, color: TEAL },
        ]}
        temp={tempMn}
      />
      {[
        ["30Mn-70Fe", BLUE],
        ["45Mn-55Fe", RED],
        ["60Mn-40Fe", GREEN],
        ["75Mn-25Fe", PURPLE],
        ["90Mn-10Fe", TEAL],
        ["Temperature", TEMP],
      ].map(([label, color], i) => (
        <LineKey key={label} x={2678} y={836 + i * 31.2} w={23} thick={3} color={color} label={label} size={19} />
      ))}
      <HText cx={2252} cy={824} size={38} weight={400}>(b)</HText>
      <VTitle cx={2156} cy={1018} size={19}>DTA (mg/min)</VTitle>
      <VTitle cx={2912} cy={1018} size={19}>Temperature (°C)</VTitle>
      <HText cx={2522} cy={1302} size={19}>Time (min)</HText>

      {/* middle conclusion */}
      <div style={{ ...blueText, left: 1724 - 2000, top: 1390 - 45 }}>
        Mixed oxides with desired phases formed, increasing the concentration of Co and Mn in the mixed
      </div>
      <div style={{ ...blueText, left: 1724 - 2000, top: 1477 - 45 }}>
        oxides reduces their initial oxygen donation temperature
      </div>

      {/* reduction temperature bars */}
      <div style={abs(182, 1582)}>
        <BarChart
          width={1112}
          height={803}
          data={barData}
          margin={{ top: 30, right: 20, bottom: 0, left: 10 }}
          barCategoryGap="21%"
          barGap={0}
        >
          <XAxis
            dataKey="name"
            height={180}
            interval={0}
            tickLine={false}
            axisLine={{ stroke: "#222", strokeWidth: 2.5 }}
            tick={<BarTick />}
          />
          <YAxis
            type="number"
            domain={[780, 960]}
            ticks={reductionTicks}
            allowDataOverflow
            width={80}
            axisLine={{ stroke: "#222", strokeWidth: 2.5 }}
            tickLine={{ stroke: "#555" }}
            tickSize={6}
            tickMargin={26}
            tick={tickStyle(26)}
          />
          <ReferenceArea y1={780} y2={960} fill="none" stroke="#222" strokeWidth={2.5} />
          <Bar dataKey="unsupported" fill={BLUE} isAnimationActive={false} />
          <Bar dataKey="supported" fill={RED} isAnimationActive={false} />
        </BarChart>
      </div>
      <div style={abs(1031, 1637, { width: 15, height: 15, background: BLUE })} />
      <div style={abs(1031, 1681, { width: 15, height: 15, background: RED })} />
      <div style={abs(1052, 1626, { fontSize: 27, fontWeight: 700, lineHeight: "44px", color: INK })}>
        <div>Unsupported</div>
        <div>Supported</div>
      </div>
      <VTitle cx={173} cy={1908} size={24}>Reduction temperature (°C)</VTitle>

      {/* redox cycles (a) */}
      <CyclePanel
        left={1460}
        top={1628}
        plotW={768}
        plotH={582}
        unsupported={unsupportedA}
        supported={supportedA}
        tm={{ left: 14, bottom: 21 }}
      />
      <LineKey x={2061} y={1652} w={28} thick={3} color="#4A7EBB" label="Unsupported" size={21} />
      <LineKey x={2061} y={1692} w={28} thick={2} color="#D24B47" label="Supported" size={21} />
      <HText cx={1503} cy={1664} size={40} weight={400}>(a)</HText>
      <VTitle cx={1397} cy={1918} size={20}>Weight loss %</VTitle>
      <HText cx={1844} cy={2277} size={20}>Time (min)</HText>

      {/* redox cycles (b) */}
      <CyclePanel
        left={2352}
        top={1628}
        plotW={764}
        plotH={582}
        unsupported={unsupportedB}
        supported={supportedB}
        tm={{ left: 12, bottom: 21 }}
      />
      <LineKey x={2951} y={1656} w={28} thick={3} color="#4A7EBB" label="Unsupported" size={21} />
      <LineKey x={2951} y={1696} w={28} thick={2} color="#D24B47" label="Supported" size={21} />
      <HText cx={2394} cy={1664} size={40} weight={400}>(b)</HText>
      <VTitle cx={2289} cy={1918} size={20}>Weight loss %</VTitle>
      <HText cx={2734} cy={2277} size={20}>Time (min)</HText>

      {/* bottom conclusion */}
      <div style={{ ...blueText, left: 1717 - 2000, top: 2471 - 45 }}>
        Perovskite supports decrease the oxygen donation temperature of the mixed oxides, they also
      </div>
      <div style={{ ...blueText, left: 1715 - 2000, top: 2560 - 45 }}>
        affect the redox activity of the oxygen carriers
      </div>
    </div>
  );
}
